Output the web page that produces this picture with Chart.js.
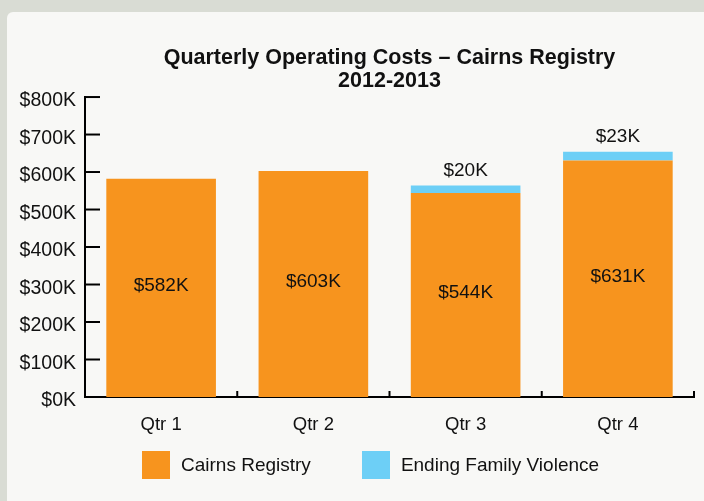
<!DOCTYPE html>
<html>
<head>
<meta charset="utf-8">
<script src="https://cdn.jsdelivr.net/npm/chart.js@4.4.1/dist/chart.umd.min.js"></script>
<style>
  html, body { margin: 0; padding: 0; }
  body { width: 704px; height: 501px; background: #d9dcd4; position: relative; overflow: hidden;
         font-family: 'Liberation Sans', Arial, sans-serif; }
  .panel { position: absolute; left: 7px; top: 12px; width: 720px; height: 510px; background: #f8f8f6; border-radius: 6px; }
  #costChart { position: absolute; left: 0; top: 0; }
  #legend { position: absolute; left: 142px; top: 451px; display: flex; gap: 51px; }
  #legend .item { display: flex; align-items: center; font-size: 19px; color: #111; height: 28px; }
  #legend .box { width: 28px; height: 28px; margin-right: 11px; }
</style>
</head>
<body>
<div class="panel"></div>
<canvas id="costChart" width="704" height="501"></canvas>
<div id="legend"></div>
<script>
/* ===== DATA ===== */
const quarters = ["Qtr 1", "Qtr 2", "Qtr 3", "Qtr 4"];
const cairnsRegistry = [582, 603, 544, 631];
const endingFamilyViolence = [null, null, 20, 23];
const seriesNames = ["Cairns Registry", "Ending Family Violence"];
const seriesColors = ["#f7941e", "#6dcff6"];
const titleLines = ["Quarterly Operating Costs \u2013 Cairns Registry", "2012-2013"];

const FONT = "'Liberation Sans', Arial, sans-serif";

/* inward tick marks on both axes */
const tickMarks = {
    id: "tickMarks",
    afterDatasetsDraw(chart) {
        const {ctx, scales: {x, y}} = chart;
        ctx.save();
        ctx.strokeStyle = "#000";
        ctx.lineWidth = 2;
        y.ticks.forEach((t, i) => {
            const py = y.getPixelForTick(i);
            ctx.beginPath();
            ctx.moveTo(x.left, py);
            ctx.lineTo(x.left + 15, py);
            ctx.stroke();
        });
        for (let i = 0; i < quarters.length; i++) {
            const px = x.getPixelForValue(i + 0.5);
            ctx.beginPath();
            ctx.moveTo(px, y.bottom);
            ctx.lineTo(px, y.bottom - 6);
            ctx.stroke();
        }
        ctx.restore();
    }
};

/* value labels: inside orange bars, above blue bars */
const valueLabels = {
    id: "valueLabels",
    afterDatasetsDraw(chart) {
        const ctx = chart.ctx;
        ctx.save();
        ctx.font = "19px " + FONT;
        ctx.fillStyle = "#111";
        ctx.textAlign = "center";
        ctx.textBaseline = "middle";
        chart.data.datasets.forEach((ds, di) => {
            chart.getDatasetMeta(di).data.forEach((bar, i) => {
                const v = ds.data[i];
                if (v == null) return;
                const txt = "$" + v + "K";
                if (di === 0) {
                    ctx.fillText(txt, bar.x, (bar.y + bar.base) / 2 - 2);
                } else {
                    ctx.fillText(txt, bar.x, bar.y - 15);
                }
            });
        });
        ctx.restore();
    }
};

const chart = new Chart(document.getElementById("costChart"), {
    type: "bar",
    data: {
        labels: quarters,
        datasets: [{
            label: seriesNames[0],
            data: cairnsRegistry,
            backgroundColor: seriesColors[0],
            barPercentage: 0.72,
            categoryPercentage: 1
        }, {
            label: seriesNames[1],
            data: endingFamilyViolence,
            backgroundColor: seriesColors[1],
            barPercentage: 0.72,
            categoryPercentage: 1
        }]
    },
    options: {
        responsive: false,
        animation: false,
        layout: {padding: {left: 0, right: 10, top: 0, bottom: 60}},
        plugins: {
            title: {
                display: true,
                fullSize: false,
                text: titleLines,
                color: "#111",
                font: {family: FONT, size: 21.5, weight: "bold", lineHeight: 1.08},
                padding: {top: 46, bottom: 4.6}
            },
            legend: {display: false},
            tooltip: {enabled: false}
        },
        scales: {
            x: {
                stacked: true,
                grid: {display: false, drawTicks: false},
                border: {color: "#000", width: 2},
                ticks: {color: "#111", font: {family: FONT, size: 18.5}, padding: 17},
                afterFit: (s) => { s.height = 44; }
            },
            y: {
                stacked: true,
                min: 0,
                max: 800,
                grid: {display: false, drawTicks: false},
                border: {color: "#000", width: 2},
                ticks: {
                    stepSize: 100,
                    color: "#111",
                    font: {family: FONT, size: 19.5},
                    padding: 9,
                    labelOffset: 4,
                    callback: (v) => "$" + v + "K"
                },
                afterFit: (s) => { s.width = 85; }
            }
        }
    },
    plugins: [tickMarks, valueLabels]
});

/* ===== HTML LEGEND ===== */
const legendEl = document.getElementById("legend");
chart.data.datasets.forEach(ds => {
    const item = document.createElement("div");
    item.className = "item";
    item.innerHTML = '<span class="box" style="background:' + ds.backgroundColor + '"></span>' + ds.label;
    legendEl.appendChild(item);
});
</script>
</body>
</html>
